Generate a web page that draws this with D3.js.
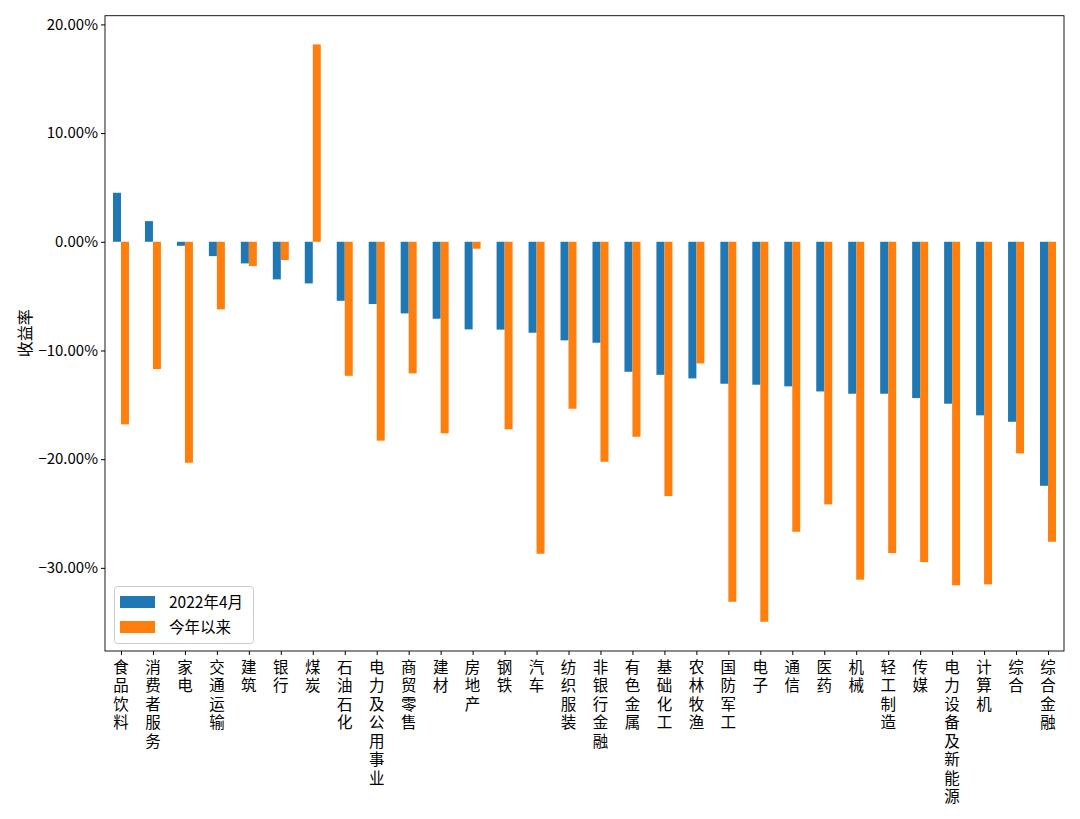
<!DOCTYPE html>
<html><head><meta charset="utf-8">
<script src="https://cdn.jsdelivr.net/npm/d3@7"></script>
<style>body{margin:0;background:#fff}svg{display:block}text{font-family:"Noto Sans CJK SC","Noto Sans",sans-serif;fill:#000}</style>
</head><body><svg id="c" width="1080" height="819"></svg>
<script>
const categories = ["食品饮料","消费者服务","家电","交通运输","建筑","银行","煤炭","石油石化","电力及公用事业","商贸零售","建材","房地产","钢铁","汽车","纺织服装","非银行金融","有色金属","基础化工","农林牧渔","国防军工","电子","通信","医药","机械","轻工制造","传媒","电力设备及新能源","计算机","综合","综合金融"];
const seriesNames = ["2022年4月","今年以来"];
const april2022 = [4.51,1.90,-0.37,-1.32,-1.99,-3.46,-3.83,-5.43,-5.73,-6.59,-7.08,-8.06,-8.08,-8.37,-9.07,-9.29,-11.96,-12.24,-12.57,-13.06,-13.15,-13.30,-13.77,-13.98,-13.98,-14.38,-14.90,-15.97,-16.56,-22.45];
const ytd = [-16.80,-11.71,-20.33,-6.22,-2.24,-1.68,18.16,-12.33,-18.30,-12.11,-17.63,-0.64,-17.26,-28.70,-15.36,-20.24,-17.94,-23.40,-11.19,-33.12,-34.96,-26.68,-24.16,-31.09,-28.64,-29.47,-31.61,-31.52,-19.47,-27.60];
const yTicks = [20,10,0,-10,-20,-30];
const colors = ["#1f77b4","#ff7f0e"];

const svg = d3.select("#c");
const L=105, R=1064, T=15.7, B=651;
const x = d3.scaleLinear().domain([-0.5, categories.length-0.5]).range([L,R]);
const y = d3.scaleLinear().domain([20.8,-37.65]).range([T,B]);
const bw = x(0.25)-x(0);

const series=[april2022,ytd];
series.forEach((vals,si)=>{
  svg.append("g").selectAll("rect").data(vals).join("rect")
    .attr("x",(d,i)=> si===0 ? x(i)-bw : x(i))
    .attr("width",bw)
    .attr("y",d=>y(Math.max(0,d)))
    .attr("height",d=>Math.abs(y(d)-y(0)))
    .attr("fill",colors[si]);
});

svg.append("rect").attr("x",L).attr("y",T).attr("width",R-L).attr("height",B-T)
  .attr("fill","none").attr("stroke","#000").attr("stroke-width",0.9);

const ya = d3.axisLeft(y).tickValues(yTicks).tickSize(4).tickPadding(3)
  .tickFormat(d=>d3.format(".2f")(d)+"%");
const gy = svg.append("g").attr("transform",`translate(${L},0)`).call(ya);
gy.select(".domain").remove();
gy.selectAll("text").attr("font-size",15).attr("fill","#000");

const xa = d3.axisBottom(x).tickValues(d3.range(categories.length)).tickSize(4).tickFormat("");
const gx = svg.append("g").attr("transform",`translate(0,${B})`).call(xa);
gx.select(".domain").remove();

svg.append("g").selectAll("text").data(categories).join("text")
  .attr("x",(d,i)=>x(i)).attr("y",659)
  .attr("font-size",15.5)
  .style("writing-mode","vertical-rl")
  .style("text-orientation","upright")
  .style("letter-spacing","3px")
  .text(d=>d);

svg.append("text").attr("transform",`translate(31,${(T+B)/2}) rotate(-90)`)
  .attr("text-anchor","middle").attr("font-size",16).text("收益率");

const lg = svg.append("g");
lg.append("rect").attr("x",114.5).attr("y",586.5).attr("width",139).attr("height",57).attr("rx",3)
  .attr("fill","#fff").attr("fill-opacity",0.8).attr("stroke","#ccc");
seriesNames.forEach((n,i)=>{
  lg.append("rect").attr("x",120).attr("y",596+i*25).attr("width",35).attr("height",12).attr("fill",colors[i]);
  lg.append("text").attr("x",169).attr("y",607.5+i*25).attr("font-size",15.5).text(n);
});
</script></body></html>
